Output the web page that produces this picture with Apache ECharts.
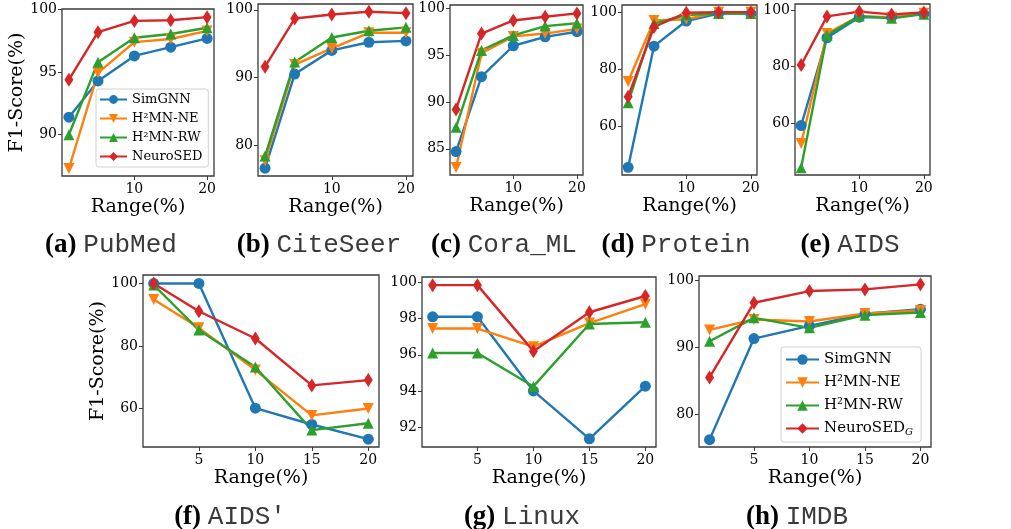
<!DOCTYPE html>
<html><head><meta charset="utf-8">
<script src="https://cdn.jsdelivr.net/npm/echarts@6/dist/echarts.min.js"></script>
<style>html,body{margin:0;padding:0;background:#fff}#c{width:1011px;height:529px}</style>
</head><body><div id="c"></div>
<script>
const RANGES = [1, 5, 10, 15, 20];
const METHODS = ['SimGNN', 'H²MN-NE', 'H²MN-RW', 'NeuroSED'];

const PUBMED_SIMGNN = [91.4, 94.3, 96.3, 97.0, 97.7];
const PUBMED_NE     = [87.3, 94.95, 97.4, 97.65, 98.3];
const PUBMED_RW     = [90.0, 95.8, 97.75, 98.05, 98.55];
const PUBMED_NEURO  = [94.4, 98.2, 99.1, 99.15, 99.4];

const CITESEER_SIMGNN = [76.6, 90.5, 94.0, 95.2, 95.4];
const CITESEER_NE     = [77.7, 91.9, 94.3, 96.6, 96.6];
const CITESEER_RW     = [78.4, 92.3, 95.9, 96.9, 97.4];
const CITESEER_NEURO  = [91.6, 98.7, 99.3, 99.7, 99.5];

const CORA_SIMGNN = [84.7, 92.7, 96.0, 96.95, 97.5];
const CORA_NE     = [83.0, 95.2, 97.0, 97.3, 97.8];
const CORA_RW     = [87.3, 95.5, 97.1, 98.1, 98.4];
const CORA_NEURO  = [89.2, 97.3, 98.7, 99.1, 99.45];

const PROTEIN_SIMGNN = [45.7, 88.1, 96.9, 99.5, 99.5];
const PROTEIN_NE     = [75.7, 97.1, 97.5, 100.0, 100.0];
const PROTEIN_RW     = [68.3, 96.0, 99.0, 99.5, 99.5];
const PROTEIN_NEURO  = [70.4, 94.8, 99.8, 100.0, 100.0];

const AIDS_SIMGNN = [59.1, 90.3, 97.6, 97.6, 98.8];
const AIDS_NE     = [52.7, 91.8, 98.0, 97.6, 99.0];
const AIDS_RW     = [44.1, 91.2, 98.0, 97.2, 98.7];
const AIDS_NEURO  = [80.6, 97.9, 99.6, 98.6, 99.3];

const AIDSP_SIMGNN = [100.0, 100.0, 60.1, 54.9, 50.2];
const AIDSP_NE     = [94.9, 85.8, 72.3, 57.8, 60.0];
const AIDSP_RW     = [99.5, 85.1, 73.3, 53.1, 55.3];
const AIDSP_NEURO  = [100.0, 91.1, 82.4, 67.4, 69.1];

const LINUX_SIMGNN = [98.1, 98.1, 94.0, 91.35, 94.26];
const LINUX_NE     = [97.45, 97.45, 96.45, 97.75, 98.8];
const LINUX_RW     = [96.1, 96.1, 94.25, 97.7, 97.8];
const LINUX_NEURO  = [99.85, 99.85, 96.2, 98.35, 99.25];

const IMDB_SIMGNN = [76.2, 91.3, 93.2, 95.0, 95.7];
const IMDB_NE     = [92.6, 94.15, 93.85, 95.05, 95.5];
const IMDB_RW     = [90.9, 94.4, 92.9, 94.8, 95.2];
const IMDB_NEURO  = [85.5, 96.65, 98.4, 98.65, 99.4];

const TOP_XTICKS = [10, 20];
const BOTTOM_XTICKS = [5, 10, 15, 20];

const COLORS = ['#1f77b4', '#ff7f0e', '#2ca02c', '#d62728'];
const SERIF = 'DejaVu Serif';

const panels = [
  {cap:'(a)', name:'PubMed',   grid:[62,9,152,167],   y:[86.7,100.05],  yt:[90,95,100], xt:TOP_XTICKS, data:[PUBMED_SIMGNN,PUBMED_NE,PUBMED_RW,PUBMED_NEURO], c:[111,245], ylab:true},
  {cap:'(b)', name:'CiteSeer', grid:[258,4,155,172],  y:[75.45,100.85], yt:[80,90,100], xt:TOP_XTICKS, data:[CITESEER_SIMGNN,CITESEER_NE,CITESEER_RW,CITESEER_NEURO], c:[319,245]},
  {cap:'(c)', name:'Cora_ML',  grid:[450,5,133,170],  y:[82.2,100.35],  yt:[85,90,95,100], xt:TOP_XTICKS, data:[CORA_SIMGNN,CORA_NE,CORA_RW,CORA_NEURO], c:[504,245]},
  {cap:'(d)', name:'Protein',  grid:[622,5,135,170],  y:[43.0,102.5],   yt:[60,80,100], xt:TOP_XTICKS, data:[PROTEIN_SIMGNN,PROTEIN_NE,PROTEIN_RW,PROTEIN_NEURO], c:[676,245]},
  {cap:'(e)', name:'AIDS',     grid:[795,4,135,171],  y:[41.5,102.3],   yt:[60,80,100], xt:TOP_XTICKS, data:[AIDS_SIMGNN,AIDS_NE,AIDS_RW,AIDS_NEURO], c:[850,245]},
  {cap:'(f)', name:'AIDS′',    grid:[143,275,236,172],y:[47.7,102.7],   yt:[60,80,100], xt:BOTTOM_XTICKS, data:[AIDSP_SIMGNN,AIDSP_NE,AIDSP_RW,AIDSP_NEURO], c:[230,517], ylab:true},
  {cap:'(g)', name:'Linux',    grid:[422,277,234,170],y:[90.9,100.3],   yt:[92,94,96,98,100], xt:BOTTOM_XTICKS, data:[LINUX_SIMGNN,LINUX_NE,LINUX_RW,LINUX_NEURO], c:[522,517]},
  {cap:'(h)', name:'IMDB',     grid:[699,276,232,171],y:[75.1,100.65],  yt:[80,90,100], xt:BOTTOM_XTICKS, data:[IMDB_SIMGNN,IMDB_NE,IMDB_RW,IMDB_NEURO], c:[797,517], neuroName:'NeuroSED_G'}
];

const grids = [], xAxes = [], yAxes = [], series = [], graphics = [];
const symbols = ['circle', 'triangle', 'triangle', 'diamond'];
const rots = [0, 180, 0, 0];
const sizes = [11, 11, 11, [9, 14]];

panels.forEach((p, i) => {
  grids.push({left:p.grid[0], top:p.grid[1], width:p.grid[2], height:p.grid[3], show:true, borderColor:'#3a3a3a', borderWidth:1.3, backgroundColor:'transparent'});
  xAxes.push({
    type:'value', gridIndex:i, min:0.05, max:20.95,
    name:'Range(%)', nameLocation:'middle', nameGap:22,
    nameTextStyle:{fontFamily:SERIF, fontSize:19, color:'#000'},
    axisLine:{show:false}, splitLine:{show:false},
    axisTick:{show:true, length:4, lineStyle:{color:'#3a3a3a'}, customValues:p.xt},
    axisLabel:{fontFamily:SERIF, fontSize:14, color:'#000', margin:6, customValues:p.xt}
  });
  yAxes.push({
    type:'value', gridIndex:i, min:p.y[0], max:p.y[1],
    name:p.ylab ? 'F1-Score(%)' : '', nameLocation:'middle', nameGap:33, nameRotate:90,
    nameTextStyle:{fontFamily:SERIF, fontSize:19, color:'#000'},
    axisLine:{show:false}, splitLine:{show:false},
    axisTick:{show:true, length:4, lineStyle:{color:'#3a3a3a'}, customValues:p.yt},
    axisLabel:{fontFamily:SERIF, fontSize:14, color:'#000', margin:5, customValues:p.yt}
  });
  p.data.forEach((vals, k) => {
    let nm = METHODS[k];
    if (k === 3 && p.neuroName) nm = p.neuroName;
    series.push({
      type:'line', name:nm, xAxisIndex:i, yAxisIndex:i,
      data: RANGES.map((r, j) => [r, vals[j]]),
      symbol:symbols[k], symbolRotate:rots[k], symbolSize:sizes[k],
      showAllSymbol:true, animation:false,
      lineStyle:{color:COLORS[k], width:2.4},
      itemStyle:{color:COLORS[k], borderWidth:0},
      emphasis:{disabled:true}
    });
  });
  graphics.push({
    type:'text', x:p.c[0], y:p.c[1],
    style:{
      text:'{b|' + p.cap + ' }{m|' + p.name + '}',
      align:'center', verticalAlign:'middle',
      rich:{
        b:{fontFamily:'Liberation Serif', fontWeight:'bold', fontSize:27, fill:'#000'},
        m:{fontFamily:'Liberation Mono', fontSize:26, fill:'#3a3a3a'}
      }
    }
  });
});

const chart = echarts.init(document.getElementById('c'), null, {renderer:'canvas'});
chart.setOption({
  backgroundColor:'#fff',
  animation:false,
  grid:grids, xAxis:xAxes, yAxis:yAxes, series:series,
  graphic:graphics,
  legend:[
    {
      data:['SimGNN','H²MN-NE','H²MN-RW','NeuroSED'],
      orient:'vertical', left:96, top:89,
      itemWidth:27, itemHeight:11, itemGap:6,
      padding:[4,6,4,3],
      backgroundColor:'#fff', borderColor:'#d0d0d0', borderWidth:1, borderRadius:3,
      textStyle:{fontFamily:SERIF, fontSize:13, color:'#000', lineHeight:13},
      selectedMode:false
    },
    {
      data:['SimGNN','H²MN-NE','H²MN-RW','NeuroSED_G'],
      orient:'vertical', left:781, top:347,
      itemWidth:33, itemHeight:13, itemGap:8,
      padding:[5,8,5,4],
      backgroundColor:'#fff', borderColor:'#d0d0d0', borderWidth:1, borderRadius:3,
      textStyle:{fontFamily:SERIF, fontSize:15, color:'#000', lineHeight:15,
        rich:{sub:{fontFamily:SERIF, fontSize:10, fontStyle:'italic', color:'#000', padding:[7,0,0,0]}}},
      formatter:function(n){ return n === 'NeuroSED_G' ? 'NeuroSED{sub|G}' : n; },
      selectedMode:false
    }
  ]
});
</script>
</body></html>
